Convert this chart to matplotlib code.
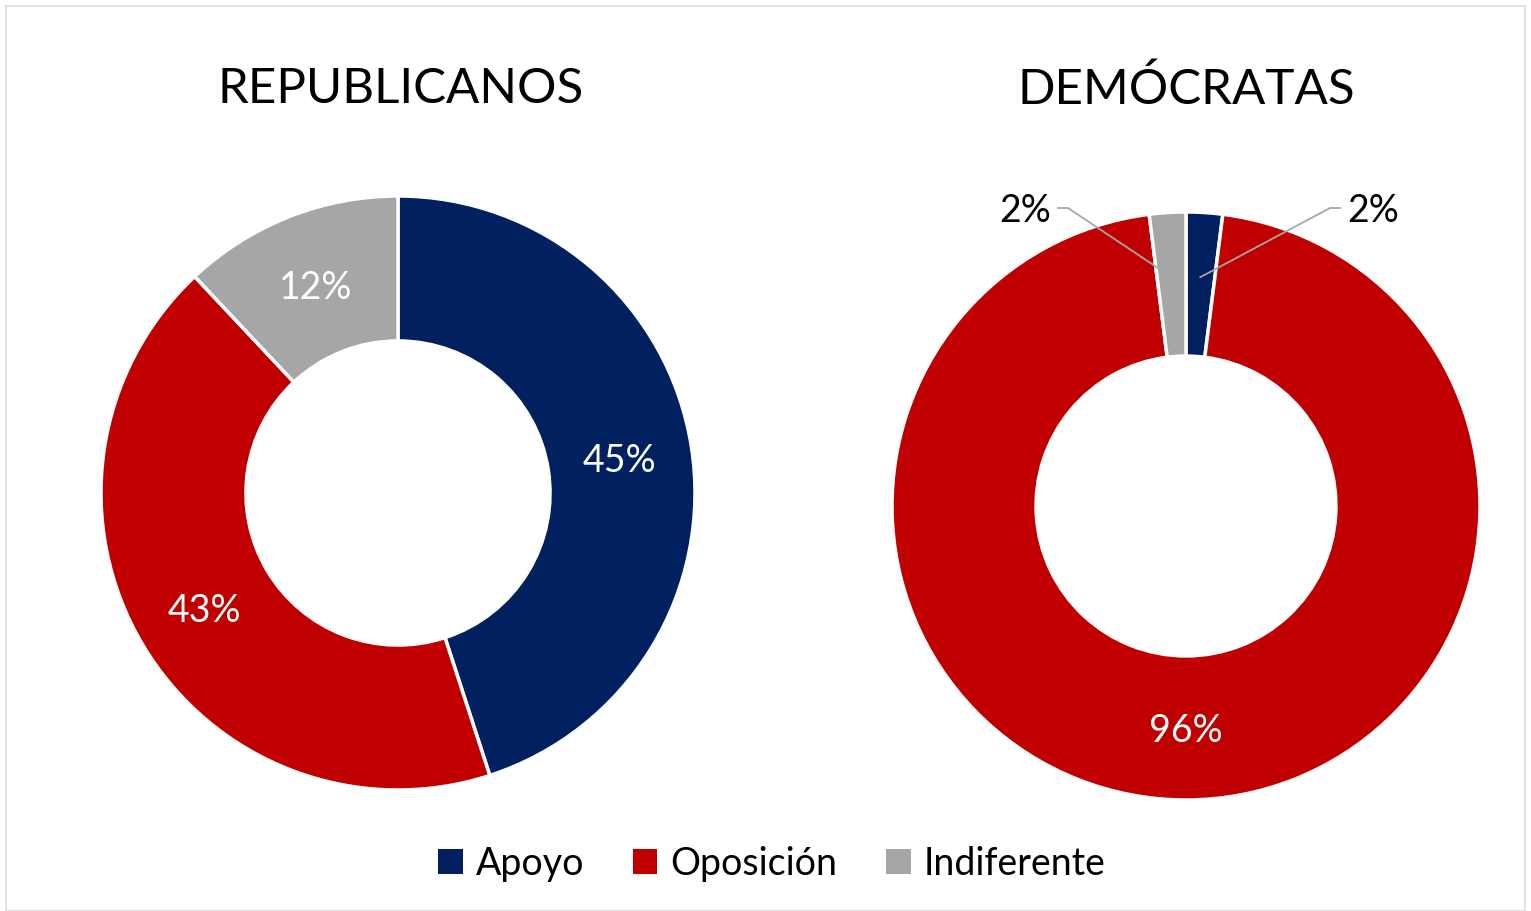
import matplotlib
matplotlib.use('Agg')
import matplotlib.pyplot as plt
import numpy as np
from matplotlib.patches import Rectangle, Patch

# datos
categorias = ['Apoyo', 'Oposición', 'Indiferente']
colores = ['#002060', '#C00000', '#A6A6A6']
republicanos = [45, 43, 12]
democratas = [2, 96, 2]
titulos = ['REPUBLICANOS', 'DEMÓCRATAS']

W, H = 1531, 911
plt.rcParams['font.family'] = ['Lato', 'DejaVu Sans']

fig = plt.figure(figsize=(W / 100, H / 100), dpi=100)

# borde del área del gráfico
fig.patches.append(Rectangle((6 / W, 0), (1525 - 6) / W, (H - 6) / H,
                             transform=fig.transFigure, fill=False,
                             edgecolor='#E6E2E2', linewidth=1.5))


def eje_donut(cx, cy, r):
    # cx, cy en pixeles desde arriba
    ax = fig.add_axes([(cx - r) / W, (H - cy - r) / H, 2 * r / W, 2 * r / H])
    ax.axis('off')
    return ax


def fijar(ax):
    ax.set_xlim(-1, 1)
    ax.set_ylim(-1, 1)
    ax.set_aspect('equal')


# REPUBLICANOS
ax1 = eje_donut(398, 493, 297)
w1, _ = ax1.pie(republicanos, colors=colores, startangle=90, counterclock=False,
                radius=1, wedgeprops=dict(width=0.488, edgecolor='white', linewidth=2.5))
fijar(ax1)
for w, v in zip(w1, republicanos):
    ang = np.deg2rad((w.theta1 + w.theta2) / 2)
    ax1.text(0.756 * np.cos(ang), 0.756 * np.sin(ang), f'{v}%', color='white',
             fontsize=27, ha='center', va='center_baseline')
fig.text(401 / W, 1 - 89 / H, titulos[0], fontsize=35.5,
         ha='center', va='center')

# DEMÓCRATAS
ax2 = eje_donut(1186, 506, 294)
w2, _ = ax2.pie(democratas, colors=colores, startangle=90, counterclock=False,
                radius=1, wedgeprops=dict(width=0.49, edgecolor='white', linewidth=2.5))
fijar(ax2)
fig.text(1186 / W, 1 - 89 / H, titulos[1], fontsize=35.5,
         ha='center', va='center')

# etiqueta grande dentro del anillo
ang = np.deg2rad((w2[1].theta1 + w2[1].theta2) / 2)
ax2.text(0.755 * np.cos(ang), 0.755 * np.sin(ang), f'{democratas[1]}%', color='white',
         fontsize=27, ha='center', va='center_baseline')

# etiquetas externas con líneas guía
gris = '#A6A6A6'
for idx, tx, lado in [(0, 1373, 1), (2, 1025, -1)]:
    w = w2[idx]
    ang = np.deg2rad((w.theta1 + w.theta2) / 2)
    x0, y0 = 0.78 * np.cos(ang), 0.78 * np.sin(ang)
    xb = (tx - lado * 43 - 1186) / 294
    xe = (tx - lado * 33 - 1186) / 294
    yb = (506 - 208) / 294
    ax2.plot([x0, xb, xe], [y0, yb, yb], color=gris, linewidth=1.3, clip_on=False)
    ax2.text((tx - 1186) / 294, yb, f'{democratas[idx]}%', fontsize=27,
             ha='center', va='center_baseline', clip_on=False)

# leyenda
handles = [Patch(facecolor=c, edgecolor='none') for c in colores]
fig.legend(handles, categorias, loc='center', bbox_to_anchor=(772 / W, 1 - 864 / H),
           ncol=3, frameon=False, fontsize=27, handlelength=0.65, handleheight=0.65,
           handletextpad=0.35, columnspacing=1.3)

fig.savefig('out.png', dpi=100)
